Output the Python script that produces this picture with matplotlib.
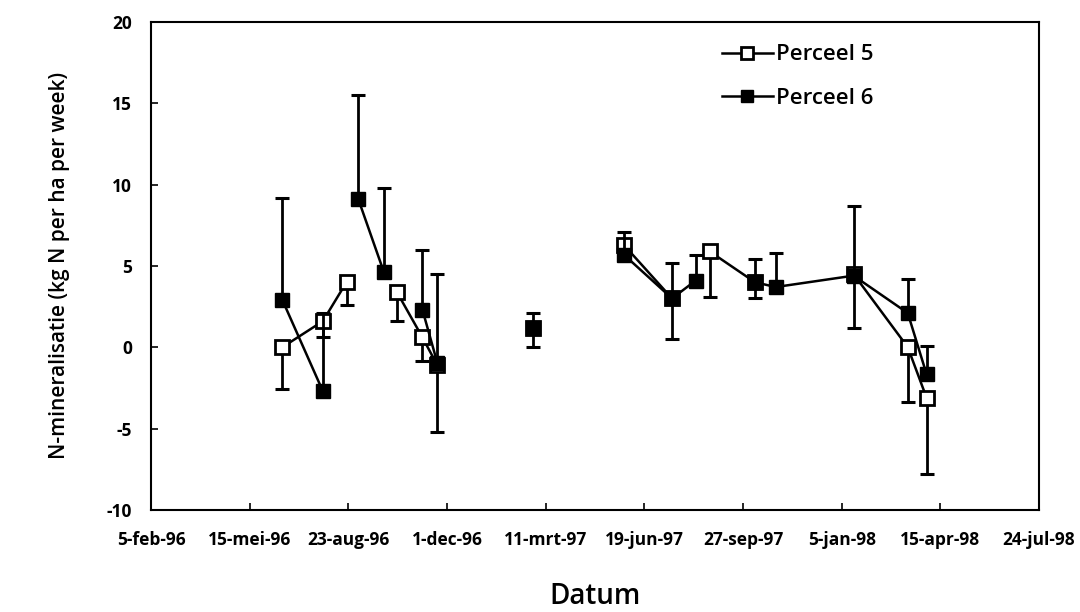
import numpy as np
import matplotlib
matplotlib.use("Agg")
import matplotlib.pyplot as plt
import matplotlib.dates as mdates

plt.rcParams['font.family'] = ['Open Sans', 'DejaVu Sans']
plt.rcParams['axes.unicode_minus'] = False

# ---- data (empty rows = gaps in the lines, as in the spreadsheet) ----------
dates = ["1996-06-17", "1996-07-28", "1996-08-21", "1996-09-02", "1996-09-28",
         "1996-10-11", "1996-11-06", "1996-11-21", "1997-01-10", "1997-02-26",
         "1997-04-10", "1997-05-29", "1997-07-17", "1997-08-10", "1997-08-24",
         "1997-10-09", "1997-10-30", "1998-01-17", "1998-03-13", "1998-04-01"]
nan = np.nan
perceel5 = [0.0, 1.6, 4.0, nan, nan, 3.4, 0.6, -1.1, nan, 1.2,
            nan, 6.3, 3.0, nan, 5.9, 4.0, nan, 4.5, 0.0, -3.1]
perceel5_err = [2.6, 1.0, 1.4, nan, nan, 1.8, 1.45, 4.1, nan, 1.2,
                nan, 0.5, 2.5, nan, 2.8, 1.0, nan, 3.3, 3.4, 4.7]
perceel6 = [2.9, -2.7, nan, 9.1, 4.6, nan, 2.3, -0.95, nan, 1.2,
            nan, 5.7, 3.0, 4.1, nan, 4.0, 3.7, 4.4, 2.1, -1.65]
perceel6_err = [6.3, 4.8, nan, 6.4, 5.2, nan, 3.7, 5.45, nan, 0.9,
                nan, 1.4, 2.2, 1.6, nan, 1.4, 2.1, 4.3, 2.1, 1.7]

xtick_dates = ["1996-02-05", "1996-05-15", "1996-08-23", "1996-12-01",
               "1997-03-11", "1997-06-19", "1997-09-27", "1998-01-05",
               "1998-04-15", "1998-07-24"]
xtick_labels = ["5-feb-96", "15-mei-96", "23-aug-96", "1-dec-96", "11-mrt-97",
                "19-jun-97", "27-sep-97", "5-jan-98", "15-apr-98", "24-jul-98"]
yticks = [-10, -5, 0, 5, 10, 15, 20]

# ---- plot -----------------------------------------------------------------
x = mdates.datestr2num(dates)
xt = mdates.datestr2num(xtick_dates)
p5 = np.array(perceel5)
p6 = np.array(perceel6)
e5 = np.array(perceel5_err)
e6 = np.array(perceel6_err)

fig = plt.figure(figsize=(10.8, 6.12), dpi=100)
ax = fig.add_axes([0.140, 0.167, 0.822, 0.797])

# Perceel 5: open squares, minus error bars
ax.errorbar(x, p5, yerr=[e5, np.zeros_like(e5)], fmt='none', ecolor='black',
            elinewidth=2.0, capsize=5, capthick=2.2, zorder=2)
ax.plot(x, p5, color='black', lw=1.8, marker='s', ms=9.5, mfc='white',
        mec='black', mew=2.0, zorder=3, label='Perceel 5')
# Perceel 6: filled squares, plus error bars
ax.errorbar(x, p6, yerr=[np.zeros_like(e6), e6], fmt='none', ecolor='black',
            elinewidth=2.0, capsize=5, capthick=2.2, zorder=4)
ax.plot(x, p6, color='black', lw=1.8, marker='s', ms=9.5, mfc='black',
        mec='black', mew=1.0, zorder=5, label='Perceel 6')

ax.set_xlim(xt[0], xt[-1])
ax.set_ylim(-10, 20)
ax.set_xticks(xt)
ax.set_xticklabels(xtick_labels)
ax.set_yticks(yticks)
ax.tick_params(direction='in', length=5, width=1.2)
ax.tick_params(axis='x', pad=15, labelsize=12.5)
ax.tick_params(axis='y', pad=14, labelsize=12.5)
for lab in ax.get_xticklabels() + ax.get_yticklabels():
    lab.set_fontweight('bold')
for sp in ax.spines.values():
    sp.set_linewidth(1.5)

ax.set_ylabel('N-mineralisatie (kg N per ha per week)', fontsize=15,
              fontweight='semibold', labelpad=26)
ax.set_xlabel('Datum', fontsize=20, fontweight='semibold', labelpad=24)

leg = ax.legend(loc='upper left', bbox_to_anchor=(0.62, 0.995), frameon=False,
                fontsize=16, handlelength=2.3, labelspacing=1.0, handletextpad=0.15,
                markerscale=0.85)
for t in leg.get_texts():
    t.set_fontweight('semibold')

fig.savefig('out.png', dpi=100, facecolor='white')
